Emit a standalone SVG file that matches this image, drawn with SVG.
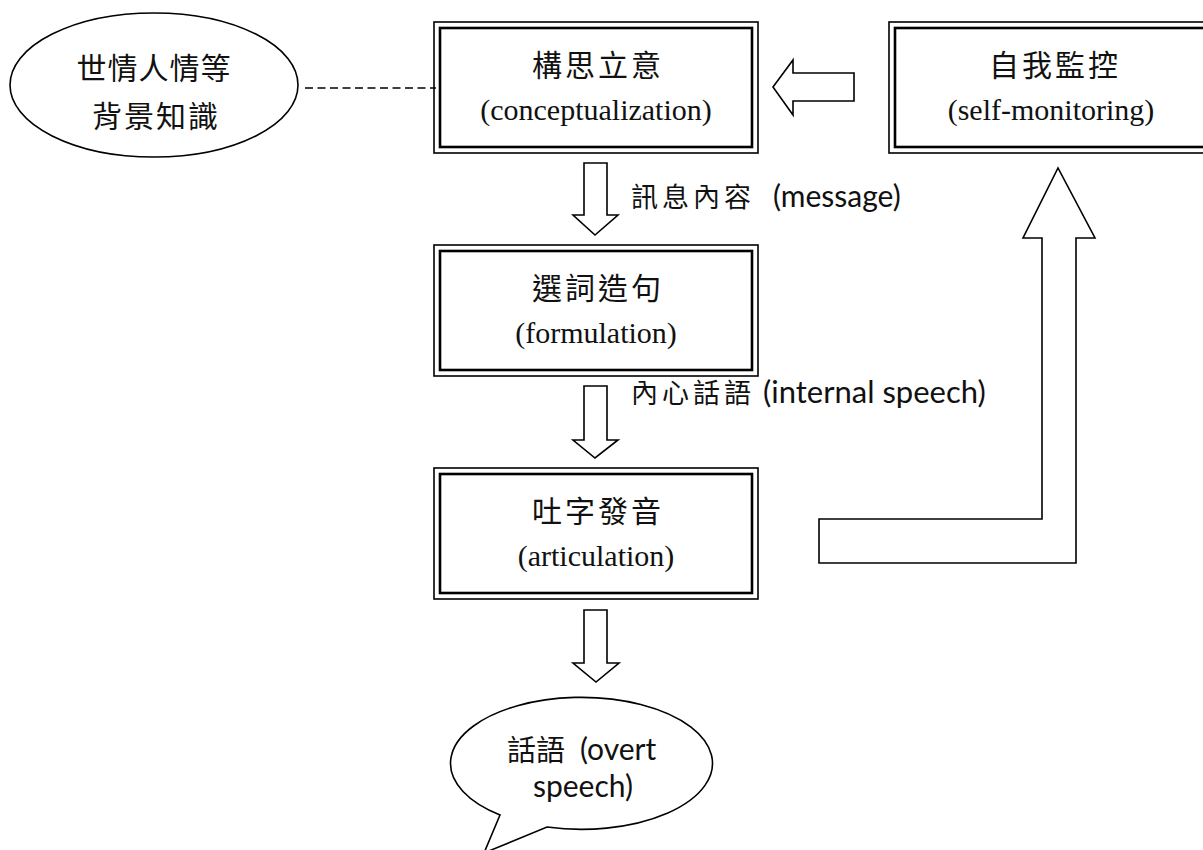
<svg xmlns="http://www.w3.org/2000/svg" width="1203" height="850" viewBox="0 0 1203 850">
  <style>
    .outer { fill: none; stroke: #000; stroke-width: 1.6; }
    .inner { fill: none; stroke: #000; stroke-width: 2.6; }
    .shape { fill: #fff; stroke: #000; stroke-width: 1.6; stroke-linejoin: miter; }
    .cjk { font-family: "Noto Sans CJK TC", "Noto Sans CJK SC", sans-serif; font-size: 30px; letter-spacing: 3px; fill: #111; }
    .en { font-family: "Liberation Serif", "Times New Roman", serif; font-size: 30px; fill: #111; }
    .lblcjk { font-family: "Noto Sans CJK TC", "Noto Sans CJK SC", sans-serif; font-size: 27px; letter-spacing: 4px; fill: #111; }
    .lblen { font-family: Lato, "Open Sans", sans-serif; font-size: 30px; fill: #111; }
  </style>
  <rect width="1203" height="850" fill="#fff"/>

  <!-- background knowledge -->
  <g id="knowledge">
    <ellipse cx="154" cy="85" rx="144" ry="72" class="shape"/>
    <text x="154" y="79" text-anchor="middle" class="cjk" style="letter-spacing:1px">世情人情等</text>
    <text x="156" y="127" text-anchor="middle" class="cjk" style="letter-spacing:2px">背景知識</text>
  </g>

  <!-- conceptualization -->
  <g id="conceptualization">
    <rect x="434" y="22" width="324" height="131" class="outer"/>
    <rect x="440" y="28" width="312" height="119" class="inner"/>
    <text x="598" y="76" text-anchor="middle" class="cjk">構思立意</text>
    <text x="596" y="120" text-anchor="middle" class="en">(conceptualization)</text>
  </g>

  <!-- self-monitoring -->
  <g id="self-monitoring">
    <rect x="889" y="22" width="324" height="131" class="outer"/>
    <rect x="895" y="28" width="312" height="119" class="inner"/>
    <text x="1055" y="76" text-anchor="middle" class="cjk">自我監控</text>
    <text x="1051" y="120" text-anchor="middle" class="en">(self-monitoring)</text>
  </g>

  <!-- formulation -->
  <g id="formulation">
    <rect x="434" y="245" width="324" height="131" class="outer"/>
    <rect x="440" y="251" width="312" height="119" class="inner"/>
    <text x="598" y="299" text-anchor="middle" class="cjk">選詞造句</text>
    <text x="596" y="343" text-anchor="middle" class="en">(formulation)</text>
  </g>

  <!-- articulation -->
  <g id="articulation">
    <rect x="434" y="468" width="324" height="131" class="outer"/>
    <rect x="440" y="474" width="312" height="119" class="inner"/>
    <text x="598" y="522" text-anchor="middle" class="cjk">吐字發音</text>
    <text x="596" y="566" text-anchor="middle" class="en">(articulation)</text>
  </g>

  <!-- overt speech bubble -->
  <g id="overt-speech">
    <path d="M 547 827 A 131 66 0 1 0 500 815 L 484 853 Z" class="shape"/>
    <text x="507" y="761" class="lblcjk" style="font-size:29px;letter-spacing:0px">話語</text>
    <text x="580" y="760" class="lblen">(overt</text>
    <text x="583" y="797" text-anchor="middle" class="lblen">speech)</text>
  </g>

  <!-- connectors -->
  <g id="connectors">
    <line x1="305" y1="88" x2="436" y2="88" stroke="#000" stroke-width="1.5" stroke-dasharray="8 4.5"/>
    <!-- feedback from monitoring to conceptualization -->
    <polygon points="773,87 793,60 793,73 854,73 854,101 793,101 793,115" class="shape"/>
    <!-- conceptualization to formulation -->
    <polygon points="584,163 607,163 607,215 618,215 595,235 573,215 584,215" class="shape"/>
    <!-- formulation to articulation -->
    <polygon points="584,386 607,386 607,440 618,440 595,458 573,440 584,440" class="shape"/>
    <!-- articulation to overt speech -->
    <polygon points="584,610 607,610 607,663 619,663 596,682 573,663 584,663" class="shape"/>
    <!-- articulation back to self-monitoring -->
    <polygon points="819,519 1042,519 1042,238 1023,238 1058,168 1095,238 1076,238 1076,563 819,563" class="shape"/>
  </g>

  <!-- arrow labels -->
  <g id="label-message">
    <text x="631" y="207" class="lblcjk">訊息內容</text>
    <text x="773" y="207" class="lblen">(message)</text>
  </g>
  <g id="label-internal">
    <text x="631" y="403" class="lblcjk">內心話語</text>
    <text x="763" y="403" class="lblen" style="font-size:31px">(internal speech)</text>
  </g>
</svg>
